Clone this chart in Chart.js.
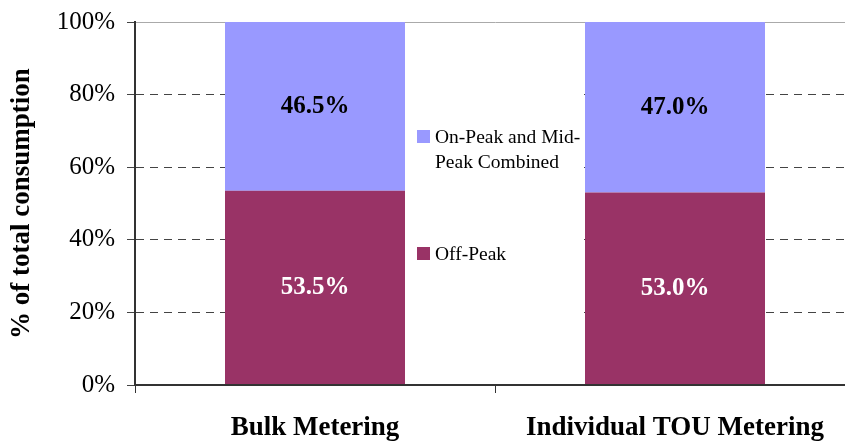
<!DOCTYPE html>
<html>
<head>
<meta charset="utf-8">
<title>Consumption by period</title>
<script src="https://cdn.jsdelivr.net/npm/chart.js@4.4.0/dist/chart.umd.min.js"></script>
<style>
  html, body { margin: 0; padding: 0; background: #fff; overflow: hidden; }
  canvas { display: block; }
</style>
</head>
<body>
<canvas id="myChart" width="855" height="442"></canvas>
<script>
'use strict';

// meter types along the bottom
const categories = ['Bulk Metering', 'Individual TOU Metering'];
// share of total consumption in each period (percent)
const offPeak = [53.5, 53.0];
const onMidPeak = [46.5, 47.0];
// legend names, and how they wrap in the box between the bars
const seriesNames = ['Off-Peak', 'On-Peak and Mid-Peak Combined'];
const legendLines = [['On-Peak and Mid-', 'Peak Combined'], ['Off-Peak']];
const yTicks = [0, 20, 40, 60, 80, 100];

const serif = '"Liberation Serif", "DejaVu Serif", serif';
const maroon = '#993366';
const lilac = '#9999FF';

// white box between the two bars with the legend in it
const middleLegend = {
    id: 'middleLegend',
    afterDatasetsDraw(chart) {
        const ctx = chart.ctx;
        const area = chart.chartArea;
        const bars = chart.getDatasetMeta(0).data;
        const x0 = bars[0].x + bars[0].width / 2;
        const x1 = bars[1].x - bars[1].width / 2 - 2;
        ctx.save();
        ctx.fillStyle = '#fff';
        ctx.fillRect(x0, area.top + 1, x1 - x0, area.bottom - area.top - 2);

        ctx.font = '19.5px ' + serif;
        ctx.textBaseline = 'alphabetic';
        ctx.textAlign = 'left';
        const colours = [lilac, maroon];
        const boxTops = [108, 225];
        for (let i = 0; i < legendLines.length; i++) {
            const sx = x0 + 12;
            const sy = area.top + boxTops[i];
            ctx.fillStyle = colours[i];
            ctx.fillRect(sx, sy, 13, 13);
            ctx.fillStyle = '#000';
            for (let j = 0; j < legendLines[i].length; j++) {
                ctx.fillText(legendLines[i][j], sx + 18, sy + 13 + j * 25);
            }
        }
        ctx.restore();
    }
};

// value printed in the middle of every segment
const segmentLabels = {
    id: 'segmentLabels',
    afterDatasetsDraw(chart) {
        const ctx = chart.ctx;
        ctx.save();
        ctx.font = 'bold 25px ' + serif;
        ctx.textAlign = 'center';
        ctx.textBaseline = 'middle';
        chart.data.datasets.forEach(function (ds, i) {
            const meta = chart.getDatasetMeta(i);
            meta.data.forEach(function (bar, j) {
                const c = bar.getCenterPoint();
                ctx.fillStyle = i === 0 ? '#fff' : '#000';
                ctx.fillText(ds.data[j].toFixed(1) + '%', c.x, c.y);
            });
        });
        ctx.restore();
    }
};

const ctx = document.getElementById('myChart').getContext('2d');
const myChart = new Chart(ctx, {
    type: 'bar',
    data: {
        labels: categories,
        datasets: [
            {
                label: seriesNames[0],
                data: offPeak,
                backgroundColor: maroon,
                borderWidth: 0,
                categoryPercentage: 1,
                barPercentage: 0.5
            },
            {
                label: seriesNames[1],
                data: onMidPeak,
                backgroundColor: lilac,
                borderWidth: 0,
                categoryPercentage: 1,
                barPercentage: 0.5
            }
        ]
    },
    options: {
        responsive: false,
        animation: false,
        devicePixelRatio: 1,
        layout: { padding: { left: 6, top: 22, right: 0, bottom: 0 } },
        plugins: {
            legend: { display: false },
            tooltip: { enabled: false }
        },
        scales: {
            x: {
                stacked: true,
                grid: {
                    display: true,
                    drawOnChartArea: false,
                    drawTicks: true,
                    tickLength: 8,
                    color: '#333',
                    offset: true
                },
                border: { display: true, color: '#333', width: 2, z: 1 },
                ticks: {
                    color: '#000',
                    font: { family: serif, size: 27, weight: 'bold' },
                    padding: 19,
                    maxRotation: 0,
                    autoSkip: false
                },
                afterFit(scale) { scale.height = 57; }
            },
            y: {
                stacked: true,
                min: 0,
                max: 100,
                afterBuildTicks(scale) {
                    scale.ticks = yTicks.map(v => ({ value: v }));
                },
                grid: {
                    color: c => (c.tick && c.tick.value === 100 ? '#aaa' : '#444'),
                    tickColor: '#444',
                    tickLength: 8,
                    lineWidth: 1
                },
                border: {
                    display: true,
                    color: '#333',
                    width: 2,
                    dash: c => (c.tick && c.tick.value === 100 ? [] : [8, 6])
                },
                ticks: {
                    callback: v => v + '%',
                    color: '#000',
                    font: { family: serif, size: 25 },
                    padding: 12
                },
                title: {
                    display: true,
                    text: '% of total consumption',
                    color: '#000',
                    font: { family: serif, size: 27, weight: 'bold' },
                    padding: 0
                },
                afterFit(scale) {
                    // fixed axis width; top and bottom come from the layout padding
                    scale.width = 129;
                    scale.paddingTop = 0;
                    scale.paddingBottom = 0;
                }
            }
        }
    },
    plugins: [middleLegend, segmentLabels]
});
</script>
</body>
</html>
